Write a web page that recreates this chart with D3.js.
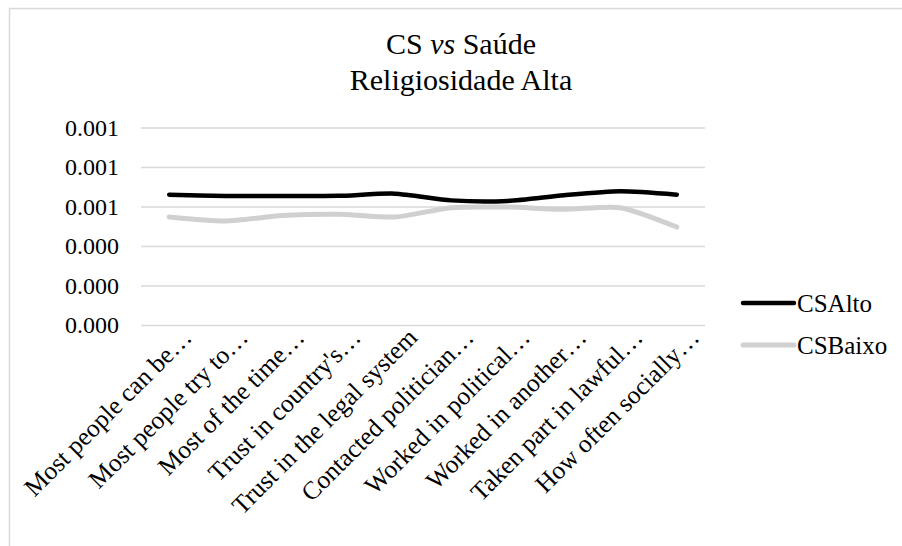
<!DOCTYPE html>
<html>
<head>
<meta charset="utf-8">
<script src="https://cdn.jsdelivr.net/npm/d3@7/dist/d3.min.js"></script>
<style>
  html, body { margin: 0; padding: 0; background: #fff; }
  svg { display: block; }
</style>
</head>
<body>
<svg id="chart" width="902" height="546"></svg>
<script>
// Indicator categories (x axis)
const categories = [
  "Most people can be\u2026",
  "Most people try to\u2026",
  "Most of the time\u2026",
  "Trust in country's\u2026",
  "Trust in the legal system",
  "Contacted politician\u2026",
  "Worked in political\u2026",
  "Worked in another\u2026",
  "Taken part in lawful\u2026",
  "How often socially\u2026"
];

// Series values
const csAlto  = [0.000660, 0.000653, 0.000653, 0.000654, 0.000665, 0.000631, 0.000628, 0.000657, 0.000677, 0.000660];
const csBaixo = [0.000547, 0.000527, 0.000554, 0.000561, 0.000547, 0.000594, 0.000597, 0.000586, 0.000594, 0.000496];

// Y axis ticks
const yTicks = [0, 0.0002, 0.0004, 0.0006, 0.0008, 0.0010];

const series = [
  { name: "CSAlto",  values: csAlto,  color: "#000000", width: 4.5 },
  { name: "CSBaixo", values: csBaixo, color: "#d0d0d0", width: 5 }
];

const FONT = "'Liberation Serif', 'Times New Roman', serif";

const svg = d3.select("#chart").attr("font-family", FONT);

// Chart area frame
svg.append("rect")
  .attr("x", 9.5).attr("y", 8.5)
  .attr("width", 1000).attr("height", 1000)
  .attr("fill", "#fff")
  .attr("stroke", "#d9d9d9")
  .attr("stroke-width", 1.5);

const plot = { left: 141, right: 705, top: 127.5, bottom: 325 };

const x = d3.scaleBand()
  .domain(categories)
  .range([plot.left, plot.right]);

const y = d3.scaleLinear()
  .domain([0, 0.0010])
  .range([plot.bottom, plot.top]);

// Title
const title = svg.append("text")
  .attr("text-anchor", "middle")
  .attr("font-family", FONT)
  .attr("font-size", 30)
  .attr("fill", "#000");
const t1 = title.append("tspan").attr("x", 461).attr("y", 54);
t1.append("tspan").text("CS ");
t1.append("tspan").attr("font-style", "italic").text("vs");
t1.append("tspan").text(" Saúde");
title.append("tspan").attr("x", 461).attr("y", 90).text("Religiosidade Alta");

// Gridlines and y tick labels
const yAxis = d3.axisLeft(y)
  .tickValues(yTicks)
  .tickSize(-(plot.right - plot.left))
  .tickPadding(22)
  .tickFormat(d3.format(".3f"));

const gy = svg.append("g")
  .attr("transform", `translate(${plot.left},0)`)
  .call(yAxis)
  .attr("font-family", FONT);
gy.select(".domain").remove();
gy.selectAll(".tick line").attr("stroke", "#d9d9d9").attr("stroke-width", 1.5);
gy.selectAll(".tick text")
  .attr("font-size", 24)
  .attr("fill", "#000")
  .attr("dy", "0.33em");

// X axis category labels (rotated)
const xAxis = d3.axisBottom(x).tickSize(0).tickPadding(0);
const gx = svg.append("g")
  .attr("transform", `translate(0,${plot.bottom})`)
  .call(xAxis)
  .attr("font-family", FONT);
gx.select(".domain").remove();
gx.selectAll(".tick text")
  .attr("font-size", 25.5)
  .attr("fill", "#000")
  .attr("text-anchor", "end")
  .attr("y", 0).attr("dy", 0)
  .attr("transform", "translate(24,14) rotate(-45)");

// Smoothed series lines
const line = d3.line()
  .x((d, i) => x(categories[i]) + x.bandwidth() / 2)
  .y(d => y(d))
  .curve(d3.curveCardinal.tension(0.3));

svg.append("g").selectAll("path")
  .data(series.slice().reverse())
  .join("path")
  .attr("d", d => line(d.values))
  .attr("fill", "none")
  .attr("stroke", d => d.color)
  .attr("stroke-width", d => d.width)
  .attr("stroke-linecap", "round")
  .attr("stroke-linejoin", "round");

// Legend
const legend = svg.append("g").attr("font-family", FONT);
series.forEach((s, i) => {
  const ly = 303 + i * 42;
  legend.append("line")
    .attr("x1", 743).attr("x2", 794)
    .attr("y1", ly).attr("y2", ly)
    .attr("stroke", s.color)
    .attr("stroke-width", s.width)
    .attr("stroke-linecap", "round");
  legend.append("text")
    .attr("x", 797).attr("y", ly + 8.5)
    .attr("font-size", 25)
    .attr("fill", "#000")
    .text(s.name);
});
</script>
</body>
</html>
